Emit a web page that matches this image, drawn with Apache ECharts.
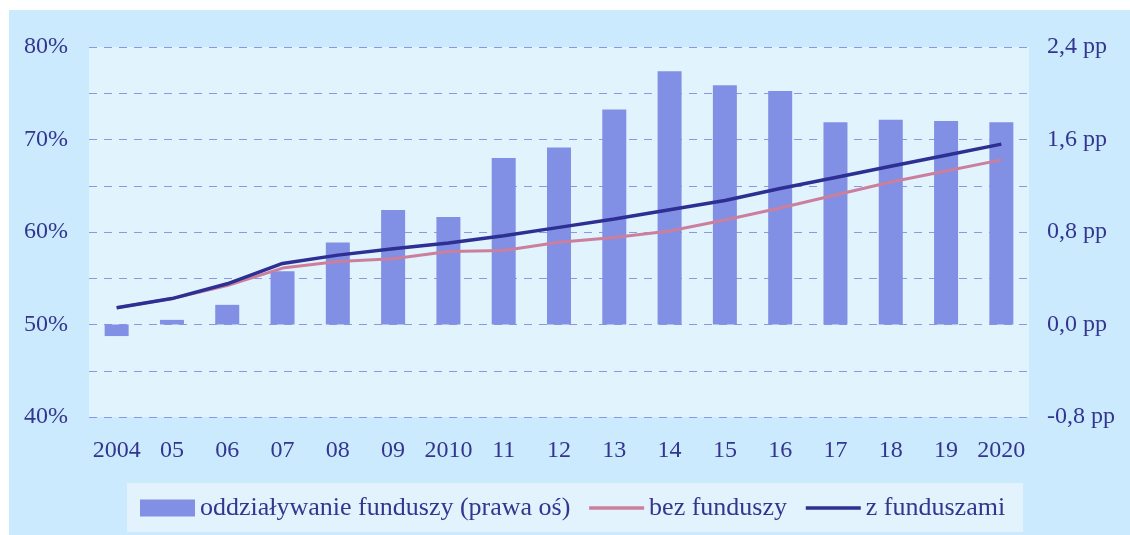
<!DOCTYPE html>
<html>
<head>
<meta charset="utf-8">
<script src="https://cdn.jsdelivr.net/npm/echarts@6/dist/echarts.min.js"></script>
<style>
  html, body { margin: 0; padding: 0; background: #ffffff; }
  #chart { position: absolute; left: 9px; top: 10px; width: 1121px; height: 525px; }
</style>
</head>
<body>
<div id="chart"></div>
<script>
// years on the x axis
var years = ['2004', '05', '06', '07', '08', '09', '2010', '11', '12', '13', '14', '15', '16', '17', '18', '19', '2020'];
// impact of funds, pp (right axis)
var impact = [-0.10, 0.04, 0.17, 0.46, 0.71, 0.99, 0.93, 1.44, 1.53, 1.86, 2.19, 2.07, 2.02, 1.75, 1.77, 1.76, 1.75];
// without funds, % (left axis)
var withoutFunds = [51.8, 52.8, 54.2, 56.1, 56.8, 57.1, 57.9, 58.0, 58.9, 59.4, 60.1, 61.3, 62.6, 64.0, 65.4, 66.6, 67.8];
// with funds, % (left axis)
var withFunds = [51.8, 52.8, 54.4, 56.6, 57.5, 58.2, 58.8, 59.6, 60.5, 61.4, 62.4, 63.4, 64.7, 65.9, 67.1, 68.3, 69.5];

var font = '"Liberation Serif", "DejaVu Serif", serif';
var txt = '#33358f';

var myChart = echarts.init(document.getElementById('chart'));
var option = {
    backgroundColor: '#cbeafd',
    textStyle: { fontFamily: font },
    grid: {
        left: 80, right: 101, top: 37, bottom: 118,
        show: true, backgroundColor: '#e1f3fd', borderWidth: 0
    },
    legend: {
        left: 118, top: 473,
        padding: [12, 18, 11, 13],
        itemGap: 17,
        itemWidth: 55, itemHeight: 17,
        backgroundColor: '#e2f3fd',
        lineStyle: { width: 3.5 },
        textStyle: { fontFamily: font, fontSize: 26, color: txt },
        data: [
            { name: 'oddziaływanie funduszy (prawa oś)', icon: 'rect' },
            { name: 'bez funduszy', itemStyle: { opacity: 0 } },   // hide the circle, keep the line
            { name: 'z funduszami', itemStyle: { opacity: 0 } }
        ]
    },
    xAxis: {
        type: 'category',
        data: years,
        axisLine: { show: false },
        axisTick: { show: false },
        axisLabel: { fontFamily: font, fontSize: 24, color: txt, margin: 22, interval: 0 }
    },
    yAxis: [{
        type: 'value',
        min: 40, max: 80, interval: 5,
        axisLine: { show: false },
        axisTick: { show: false },
        axisLabel: {
            fontFamily: font, fontSize: 24, color: txt, margin: 21,
            formatter: function (v) { return v % 10 === 0 ? v + '%' : ''; }
        },
        splitLine: { lineStyle: { color: '#8c98e6', type: [8, 7], width: 1 } }
    }, {
        type: 'value',
        min: -0.8, max: 2.4, interval: 0.8,
        axisLine: { show: false },
        axisTick: { show: false },
        splitLine: { show: false },
        axisLabel: {
            fontFamily: font, fontSize: 24, color: txt, margin: 18,
            formatter: function (v) { return v.toFixed(1).replace('.', ',') + ' pp'; }
        }
    }],
    series: [{
        name: 'oddziaływanie funduszy (prawa oś)',
        type: 'bar',
        yAxisIndex: 1,
        barWidth: 24,
        itemStyle: { color: '#8190e4' },
        data: impact
    }, {
        name: 'bez funduszy',
        type: 'line',
        yAxisIndex: 0,
        symbol: 'none',
        lineStyle: { color: '#cc7f9c', width: 3 },
        itemStyle: { color: '#cc7f9c' },
        data: withoutFunds
    }, {
        name: 'z funduszami',
        type: 'line',
        yAxisIndex: 0,
        symbol: 'none',
        lineStyle: { color: '#2e2f92', width: 3.5 },
        itemStyle: { color: '#2e2f92' },
        data: withFunds
    }]
};
myChart.setOption(option);
</script>
</body>
</html>
